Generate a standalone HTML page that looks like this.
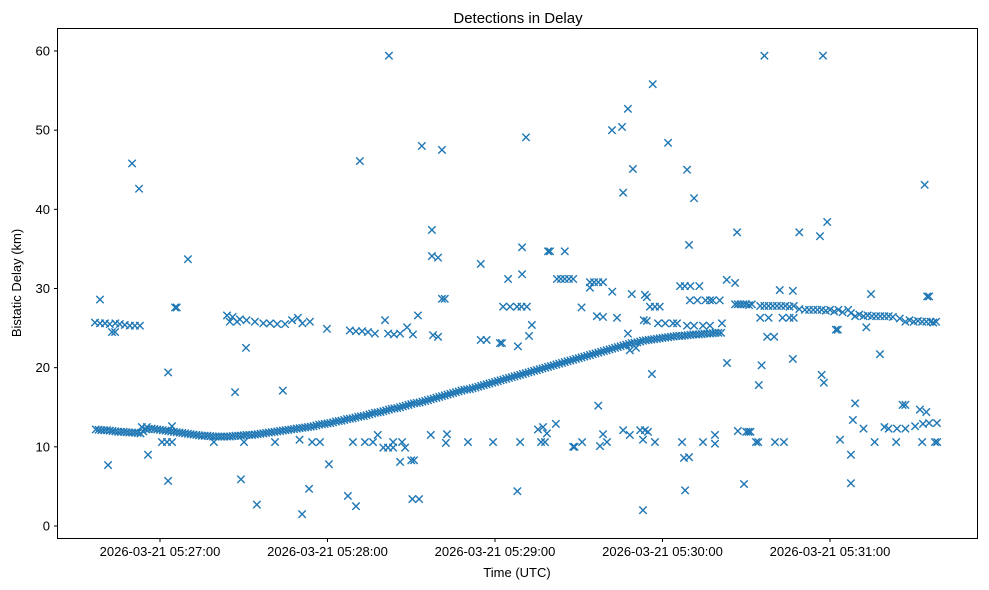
<!DOCTYPE html>
<html><head><meta charset="utf-8"><style>
html,body{margin:0;padding:0;background:#fff}
svg{display:block;font-family:"Liberation Sans","DejaVu Sans",sans-serif}
</style></head><body>
<svg id="chart" width="989" height="590" viewBox="0 0 989 590">
<rect x="0" y="0" width="989" height="590" fill="#fff"/>
<text x="518" y="23" font-size="15" text-anchor="middle" fill="#000">Detections in Delay</text>
<g id="marks"></g>
<g id="axes"></g>
<rect x="57.5" y="28.5" width="920" height="510" fill="none" stroke="#000" stroke-width="1"/>
<text x="517" y="577" font-size="13" text-anchor="middle" fill="#000">Time (UTC)</text>
<text x="21" y="283" font-size="13" text-anchor="middle" fill="#000" transform="rotate(-90 21 283)">Bistatic Delay (km)</text>
</svg>
<script>
// times in seconds after 2026-03-21 05:26:00, delays in km
const xTickSeconds = [60, 120, 180, 240, 300];
const xTickLabels = ["2026-03-21 05:27:00","2026-03-21 05:28:00","2026-03-21 05:29:00","2026-03-21 05:30:00","2026-03-21 05:31:00"];
const yTickValues = [0, 10, 20, 30, 40, 50, 60];

const trackT = [37,39,41,43,45,47,49,51,53,55,57,59,61,63,65,67,69,71,73,75,77,79,81,83,85,87,89,91,93,95,97,99,101,103,105,107,109,111,113,115,117,119,121,123,125,127,129,131,133,135,137,139,141,143,145,147,149,151,153,155,157,159,161,163,165,167,169,171,173,175,177,179,181,183,185,187,189,191,193,195,197,199,201,203,205,207,209,211,213,215,217,219,221,223,225,227,229,231,233,235,237,239,241,243,245,247,249,251,253,255,257,259,261];
const trackD = [12.2,12.1,12.1,12.0,11.9,11.9,11.8,11.8,11.7,12.2,12.3,12.2,12.1,12.0,11.9,11.8,11.7,11.6,11.5,11.4,11.4,11.3,11.3,11.3,11.3,11.4,11.4,11.5,11.5,11.6,11.7,11.8,11.9,12.0,12.1,12.2,12.3,12.4,12.5,12.6,12.8,12.9,13.0,13.2,13.3,13.5,13.6,13.8,13.9,14.1,14.3,14.4,14.6,14.8,14.9,15.1,15.3,15.5,15.6,15.8,16.0,16.2,16.4,16.6,16.8,17.0,17.2,17.3,17.5,17.7,17.9,18.1,18.3,18.5,18.7,18.9,19.1,19.3,19.5,19.7,19.9,20.1,20.3,20.5,20.7,20.9,21.1,21.3,21.5,21.7,21.9,22.1,22.3,22.5,22.7,22.9,23.1,23.2,23.4,23.5,23.6,23.7,23.8,23.9,24.0,24.0,24.1,24.2,24.2,24.3,24.3,24.4,24.4];
const track2T = [38,40,42,44,46,48,50,52,54,56,58,60,62,64,66,68,70,72,74,76,78,80,82,84,86,88,90,92,94,96,98,100,102,104,106,108,110,112,114,116,118,120,122,124,126,128,130,132,134,136,138,140,142,144,146,148,150,152,154,156,158,160,162,164,166,168,170,172,174,176,178,180,182,184,186,188,190,192,194,196,198,200,202,204,206,208,210,212,214,216,218,220,222,224,226,228,230,232,234,236,238,240,242,244,246,248,250,252,254,256,258,260];
const track2D = [12.15,12.1,12.05,11.95,11.9,11.85,11.8,11.75,11.95,12.25,12.25,12.15,12.05,11.95,11.85,11.75,11.65,11.55,11.45,11.4,11.35,11.3,11.3,11.3,11.35,11.4,11.45,11.5,11.55,11.65,11.75,11.85,11.95,12.05,12.15,12.25,12.35,12.45,12.55,12.7,12.85,12.95,13.1,13.25,13.4,13.55,13.7,13.85,14.0,14.2,14.35,14.5,14.7,14.85,15.0,15.2,15.4,15.55,15.7,15.9,16.1,16.3,16.5,16.7,16.9,17.1,17.25,17.4,17.6,17.8,18.0,18.2,18.4,18.6,18.8,19.0,19.2,19.4,19.6,19.8,20.0,20.2,20.4,20.6,20.8,21.0,21.2,21.4,21.6,21.8,22.0,22.2,22.4,22.6,22.8,23.0,23.15,23.3,23.45,23.55,23.65,23.75,23.85,23.95,24.0,24.05,24.15,24.2,24.25,24.3,24.35,24.4];

const upperT = [36.7,38.5,40.3,42,44,45.6,47.4,49.2,51,52.8,42.8,43.9,
84,86,88.6,91,94,97,99.4,102,104.8,107.3,109.4,111,113.7,85,87.6,
128,130.2,132.4,134.5,137,140.6,141.7,143.8,146,148.5,150.6,152.4,119.8,
182.9,185.4,187.9,189.5,191.4,216.5,218.7,223.7,211,
202.2,203.6,205,206.5,208,214,215.5,217,218.7,214,222,229,233.7,184.7,189.7,
235.5,237.3,239,234.4,238.4,241,243.8,245.2,248.8,251.3,254.5,257,261.3,246.3,248,250,253.2,257,249.8,252.5,255.4,258,260.5,
266,268,270,272,275,278,281,284,287,275,278,283,285.5,287,291,294,297,300,303,306.5,309,312,315,318,321,327,330,333,336,338,
267,269,271,276.5,279.5,282.5,285.5,289,292.5,295.5,298.5,301.5,304.5,307.5,310.5,313.5,316.5,319.5,322.5,325,328.5,331.5,334.5,337];
const upperD = [25.7,25.6,25.6,25.5,25.6,25.5,25.4,25.3,25.3,25.3,24.5,24.5,
26.6,26.4,26.1,26.0,25.8,25.6,25.6,25.5,25.5,26.0,26.3,25.6,25.8,25.8,25.8,
24.7,24.6,24.6,24.5,24.3,26.0,24.3,24.2,24.3,25.1,24.2,26.6,24.9,
27.7,27.7,27.7,27.7,27.7,26.5,26.4,26.3,27.6,
31.2,31.2,31.2,31.2,31.2,30.8,30.8,30.8,30.8,30.1,29.6,29.3,29.2,31.2,31.8,
27.7,27.7,27.7,25.9,25.6,25.6,25.6,25.6,25.3,25.3,25.3,25.3,25.6,30.3,30.3,30.3,30.3,28.5,28.5,28.5,28.5,28.5,28.5,
28.0,28.0,28.0,28.0,27.8,27.8,27.8,27.8,27.8,26.3,26.3,26.3,26.3,26.3,27.3,27.3,27.3,27.3,27.3,27.3,26.5,26.5,26.5,26.5,26.5,25.8,25.8,25.8,25.8,25.8,
28.0,28.0,27.9,27.8,27.8,27.8,27.7,27.4,27.3,27.3,27.2,27.1,27.0,26.9,26.7,26.6,26.5,26.5,26.4,26.2,26.0,25.9,25.8,25.7];

const scatterT = [38.5,41.4,50,52.5,55.7,62.9,62.9,65.4,66,70,86.9,89,90.8,94.7,104,110.9,113.4,120.5,127.3,130.2,131.6,142,146,151,152.8,153.8,157.4,157.4,159.6,157.8,159.6,161,161,162,174.9,174.9,177,181.8,182.5,188,188.2,189.7,191.1,192.2,193.2,199,199.7,205,217,221.9,225.5,225.9,227.6,229.4,227.6,228.3,230.5,233,233.3,234.4,236.5,236.2,242,248.1,248.8,249.5,249.5,251.3,263.1,266.7,263,266,282,286.7,314.7,334.8,335.5,277.5,280,275.5,286.7,274.5,297,297.8,299,296.4,289,276.5,297.5,333.9,313,317.9,302.1,302.8,309,308.2,303.6,307.5,307.5,269.2,270,270.8,271.5,273.5,274.3,280.3,283.5,312,319.5,321,324,327,330.5,333.3,335.5,338.3,316,323.7,333,337.6,338.4,326,327,332.2,334.5,
60.7,62.5,64.3,79.3,90.1,101.2,110,114.5,117.3,129.1,133.4,136.3,138,140,141.7,143.5,143.5,146.7,147.8,157,162.8,162.4,170.3,179.3,189,195.4,197.2,198.6,201.8,196.5,197.9,208,208.5,211.2,218.7,217.6,220.1,225.9,228.3,232,233.7,234.8,233,237.3,247,254.5,258.8,258.8,247.7,267,150,150.4,53.5,55.3,64.3];
const scatterD = [28.6,7.7,45.8,42.6,9.0,19.4,5.7,27.6,27.6,33.7,16.9,5.9,22.5,2.7,17.1,1.5,4.7,7.8,3.8,2.5,46.1,59.4,8.1,8.3,3.4,48.0,37.4,34.1,33.9,24.1,23.9,47.5,28.7,28.7,33.1,23.5,23.5,23.1,23.1,4.4,22.7,35.2,49.1,24.0,25.4,34.7,34.7,34.7,15.2,50.0,50.4,42.1,52.7,45.1,24.3,22.2,22.5,2.0,26.0,28.9,55.8,19.2,48.4,4.5,45.0,35.5,8.7,41.4,20.6,37.1,31.1,30.7,29.8,29.7,29.3,29.0,29.0,23.9,23.9,20.3,21.1,17.8,19.1,18.1,38.4,36.6,37.1,59.4,59.4,43.1,25.1,21.7,24.8,24.8,15.5,13.4,10.9,9.0,5.4,5.3,11.9,11.9,11.9,10.6,10.6,10.6,10.6,12.3,12.5,12.3,12.3,12.3,12.6,12.9,13.0,13.0,10.6,10.6,10.6,10.6,10.6,15.3,15.3,14.7,14.4,
10.6,10.6,10.6,10.6,10.6,10.6,10.9,10.6,10.6,10.6,10.6,10.6,11.5,9.9,9.9,9.9,10.6,10.6,9.9,11.5,11.6,10.5,10.6,10.6,10.6,12.2,12.5,11.7,12.9,10.6,10.6,10.0,10.0,10.6,11.6,10.1,10.6,12.1,11.5,12.1,12.1,11.9,10.9,10.6,10.6,10.6,11.5,10.4,8.6,12.0,8.3,3.4,12.5,12.5,12.6];

const NS = "http://www.w3.org/2000/svg";
function xScale(t){ return 160 + (t - 60) * (167.5 / 60); }
function yScale(d){ return 526 - d * 7.917; }

const marks = document.getElementById('marks');
function drawSeries(ts, ds, name){
  for (let i = 0; i < ts.length; i++){
    const cx = xScale(ts[i]), cy = yScale(ds[i]), r = 3.7;
    const p = document.createElementNS(NS, 'path');
    p.setAttribute('d', `M${cx-r},${cy-r}L${cx+r},${cy+r}M${cx-r},${cy+r}L${cx+r},${cy-r}`);
    p.setAttribute('stroke', '#1f77b4');
    p.setAttribute('stroke-width', '1.4');
    p.setAttribute('fill', 'none');
    
    
    marks.appendChild(p);
  }
}
drawSeries(trackT, trackD, 'track-point');
drawSeries(track2T, track2D, 'track-point');
drawSeries(upperT, upperD, 'upper-band-point');
drawSeries(scatterT, scatterD, 'detection-point');

const axes = document.getElementById('axes');
xTickSeconds.forEach((t, i) => {
  const x = xScale(t);
  const l = document.createElementNS(NS, 'line');
  l.setAttribute('x1', x); l.setAttribute('x2', x);
  l.setAttribute('y1', 538.5); l.setAttribute('y2', 542);
  l.setAttribute('stroke', '#000');
  
  
  axes.appendChild(l);
  const tx = document.createElementNS(NS, 'text');
  tx.setAttribute('x', x); tx.setAttribute('y', 556);
  tx.setAttribute('font-size', '13'); tx.setAttribute('text-anchor', 'middle');
  tx.textContent = xTickLabels[i];
  
  
  axes.appendChild(tx);
});
yTickValues.forEach(v => {
  const y = yScale(v);
  const l = document.createElementNS(NS, 'line');
  l.setAttribute('x1', 54); l.setAttribute('x2', 57.5);
  l.setAttribute('y1', y); l.setAttribute('y2', y);
  l.setAttribute('stroke', '#000');
  
  
  axes.appendChild(l);
  const tx = document.createElementNS(NS, 'text');
  tx.setAttribute('x', 50); tx.setAttribute('y', y + 4.5);
  tx.setAttribute('font-size', '13'); tx.setAttribute('text-anchor', 'end');
  tx.textContent = v;
  
  
  axes.appendChild(tx);
});
</script>
</body></html>
